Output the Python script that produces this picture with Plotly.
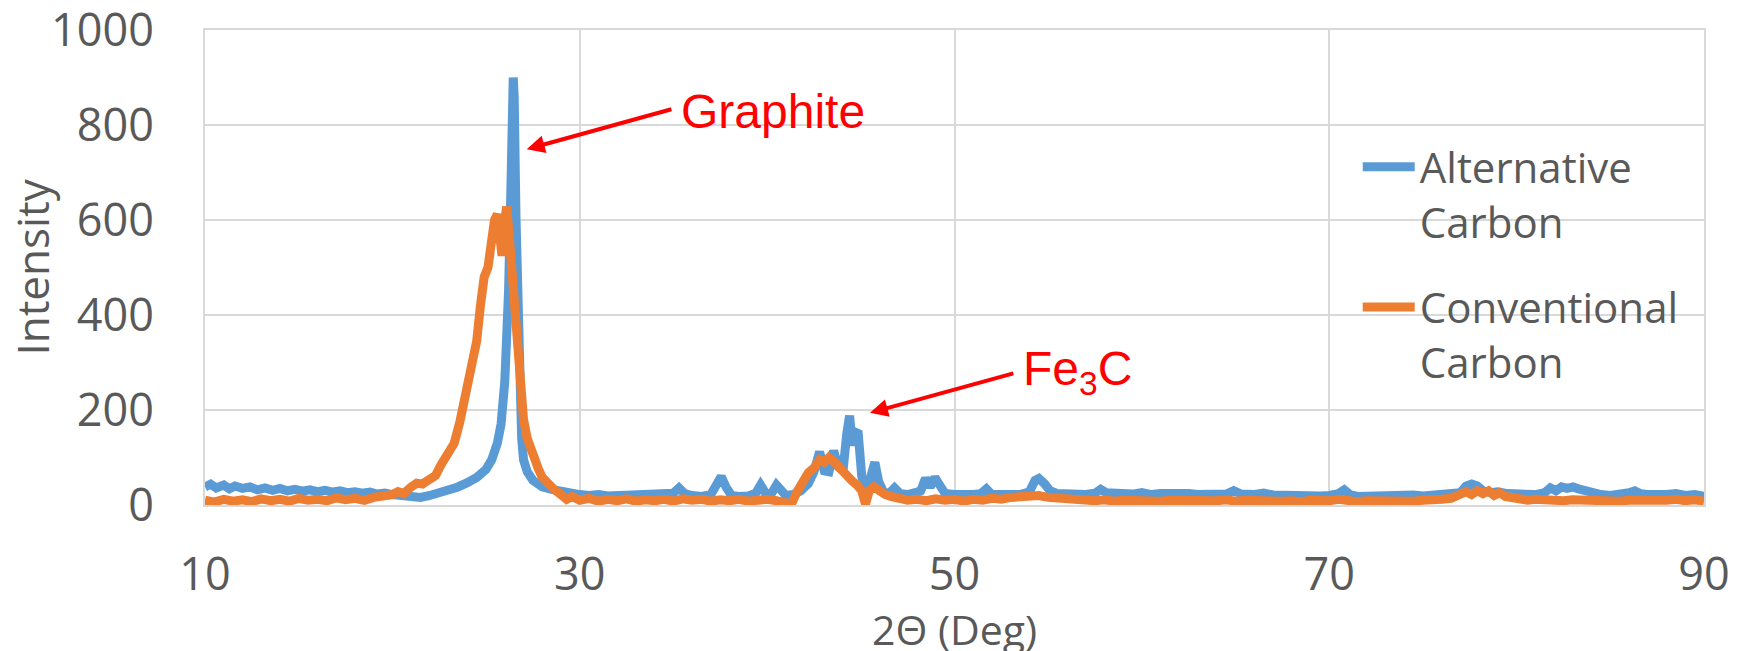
import plotly.graph_objects as go

# ---------------- data ----------------
alt_x = [10.0, 10.3, 10.6, 11.0, 11.3, 11.6, 12.0, 12.4, 12.8, 13.2, 13.6, 14.0, 14.4, 14.8, 15.2, 15.6,
         16.0, 16.4, 16.8, 17.2, 17.6, 18.0, 18.4, 18.8, 19.2, 19.6, 20.0, 20.5, 21.0, 21.5, 22.0, 22.5,
         23.0, 23.5, 24.0, 24.5, 25.0, 25.3, 25.6, 25.8, 26.0, 26.1, 26.2, 26.3, 26.4, 26.45, 26.5, 26.6,
         26.7, 26.8, 26.9, 27.0, 27.2, 27.5, 27.8, 28.0, 28.5, 29.0, 29.5, 30.0, 30.5, 31.0, 31.5, 32.0,
         32.5, 33.0, 33.5, 34.0, 34.5, 35.0, 35.3, 35.6, 36.0, 36.5, 37.0, 37.3, 37.55, 37.8, 38.1, 38.5,
         39.0, 39.4, 39.65, 39.9, 40.2, 40.5, 40.75, 41.0, 41.4, 41.8, 42.2, 42.5, 42.8, 43.05, 43.3, 43.55,
         43.8, 44.05, 44.25, 44.4, 44.55, 44.65, 44.85, 45.05, 45.3, 45.55, 45.75, 45.95, 46.2, 46.5, 46.8,
         47.1, 47.5, 47.9, 48.2, 48.45, 48.7, 48.95, 49.2, 49.5, 50.0, 50.5, 51.0, 51.4, 51.7, 52.0, 52.5,
         53.0, 53.5, 54.0, 54.3, 54.5, 54.8, 55.1, 55.5, 56.0, 56.5, 57.0, 57.5, 57.8, 58.1, 58.5, 59.0,
         59.5, 60.0, 60.5, 61.0, 61.5, 62.0, 62.5, 63.0, 63.5, 64.0, 64.5, 64.9, 65.3, 66.0, 66.5, 67.0,
         67.5, 68.0, 68.5, 69.0, 69.5, 70.0, 70.5, 70.8, 71.1, 71.5, 72.0, 72.5, 73.0, 73.5, 74.0, 74.5,
         75.0, 75.5, 76.0, 76.5, 77.0, 77.3, 77.6, 77.9, 78.2, 78.6, 79.0, 79.5, 80.0, 80.5, 81.0, 81.5,
         81.8, 82.1, 82.4, 82.7, 83.0, 83.3, 83.6, 84.0, 84.5, 85.0, 85.5, 86.0, 86.3, 86.6, 87.0, 87.5,
         88.0, 88.5, 89.0, 89.5, 90.0]
alt_y = [38, 44, 36, 42, 34, 40, 35, 38, 32, 36, 31, 35, 30, 33, 29, 32,
         28, 31, 27, 30, 26, 28, 25, 27, 23, 25, 22, 20, 17, 16, 20, 26,
         30, 38, 47, 58, 75, 95, 130, 170, 260, 340, 450, 620, 820, 900, 860, 600,
         380, 230, 140, 95, 70, 52, 42, 38, 33, 28, 25, 22, 20, 22, 19, 20,
         18, 21, 19, 20, 22, 25, 36, 24, 20, 18, 22, 40, 60, 38, 20, 18,
         19, 25, 42, 26, 22, 42, 28, 20, 22, 30, 45, 70, 112, 72, 70, 114,
         80, 72, 150, 188, 125, 150, 156, 60, 28, 55, 90, 50, 28, 24, 36,
         24, 22, 26, 30, 56, 38, 58, 40, 24, 22, 20, 22, 24, 34, 22, 20,
         22, 22, 28, 52, 56, 45, 30, 24, 22, 23, 22, 25, 33, 26, 24, 25,
         23, 26, 22, 24, 25, 23, 24, 22, 21, 22, 23, 30, 23, 22, 25, 21,
         20, 22, 20, 21, 19, 20, 24, 32, 22, 18, 19, 20, 18, 20, 19, 21,
         19, 20, 22, 21, 26, 40, 44, 40, 30, 26, 28, 24, 22, 20, 22, 26,
         36, 30, 38, 35, 38, 34, 30, 26, 22, 20, 22, 26, 30, 24, 22, 20,
         22, 24, 20, 22, 18]

conv_x = [10.0, 10.5, 11.0, 11.5, 12.0, 12.5, 13.0, 13.5, 14.0, 14.5, 15.0, 15.5, 16.0, 16.5, 17.0, 17.5,
          18.0, 18.5, 19.0, 19.5, 20.0, 20.3, 20.6, 21.0, 21.3, 21.6, 22.0, 22.3, 22.6, 23.0, 23.3, 23.6,
          23.9, 24.1, 24.3, 24.5, 24.7, 24.9, 25.1, 25.3, 25.45, 25.6, 25.75, 25.85, 26.0, 26.1, 26.25, 26.4,
          26.55, 26.7, 26.85, 27.0, 27.2, 27.5, 27.8, 28.0, 28.3, 28.6, 29.0, 29.3, 29.6, 30.0, 30.5, 31.0,
          31.5, 32.0, 32.5, 33.0, 33.5, 34.0, 34.5, 35.0, 35.5, 36.0, 36.5, 37.0, 37.5, 38.0, 38.5, 39.0,
          39.5, 40.0, 40.5, 41.0, 41.3, 41.6, 41.9, 42.2, 42.5, 42.8, 43.05, 43.3, 43.55, 43.8, 44.05, 44.3,
          44.55, 44.8, 45.05, 45.25, 45.45, 45.7, 46.0, 46.3, 46.6, 47.0, 47.5, 48.0, 48.5, 49.0, 49.5, 50.0,
          50.5, 51.0, 51.5, 52.0, 52.5, 53.0, 53.5, 54.0, 54.5, 55.0, 55.5, 56.0, 56.5, 57.0, 57.5, 58.0,
          58.5, 59.0, 59.5, 60.0, 61.0, 61.5, 62.0, 62.5, 63.0, 63.5, 64.0, 64.5, 65.0, 65.5, 66.0, 66.5,
          67.0, 67.5, 68.0, 68.5, 69.0, 69.5, 70.0, 70.5, 71.0, 71.5, 72.0, 72.5, 73.0, 73.5, 74.0, 74.5,
          75.0, 75.5, 76.0, 76.5, 77.0, 77.3, 77.6, 77.9, 78.2, 78.5, 78.8, 79.1, 79.4, 79.8, 80.2, 80.6,
          81.0, 81.5, 82.0, 82.5, 83.0, 83.5, 84.0, 84.5, 85.0, 85.5, 86.0, 86.5, 87.0, 87.5, 88.0, 88.5,
          89.0, 89.5, 90.0]
conv_y = [10, 6, 12, 8, 11, 7, 13, 9, 12, 8, 14, 10, 12, 9, 15, 11,
          14, 10, 16, 18, 22, 28, 24, 38, 46, 44, 55, 62, 85, 110, 130, 175,
          235, 260, 300, 345, 420, 480, 500, 560, 600, 612, 540, 525, 600, 628, 560, 470,
          390, 300, 230, 180, 140, 100, 75, 58, 45, 34, 22, 12, 18, 10, 14, 8,
          12, 9, 13, 8, 11, 9, 12, 8, 13, 10, 12, 8, 11, 9, 12, 8,
          10, 12, 9, 6, 2, 28, 50, 68, 78, 95, 90, 100, 92, 80, 70, 58,
          50, 42, 30, 2, 30, 38, 28, 22, 18, 14, 10, 12, 9, 13, 10, 12,
          8, 12, 10, 14, 12, 16, 18, 22, 20, 16, 14, 12, 10, 12, 9, 11,
          8, 10, 9, 11, 8, 10, 9, 11, 8, 10, 9, 11, 8, 10, 9, 7,
          10, 8, 9, 7, 10, 8, 9, 12, 8, 7, 9, 8, 10, 7, 9, 8,
          10, 9, 12, 14, 20, 28, 22, 30, 24, 30, 20, 26, 18, 14, 12, 10,
          12, 10, 12, 9, 11, 10, 12, 9, 11, 8, 10, 9, 11, 8, 10, 12,
          9, 11, 8]

series_names = ["Alternative<br>Carbon", "Conventional<br>Carbon"]
series_colors = ["#5b9bd5", "#ed7d31"]

x_ticks = [10, 30, 50, 70, 90]
y_ticks = [0, 200, 400, 600, 800, 1000]

x_title = "2Θ (Deg)"
y_title = "Intensity"

# ---------------- figure ----------------
FONT = "Open Sans"
GREY = "#595959"
GRID = "#d9d9d9"

fig = go.Figure()
for xs, ys, name, col in [(alt_x, alt_y, series_names[0], series_colors[0]),
                          (conv_x, conv_y, series_names[1], series_colors[1])]:
    fig.add_trace(go.Scatter(x=xs, y=ys, mode="lines", name=name, legendgroup=name,
                             line=dict(color=col, width=9),
                             hoverinfo="skip"))

# the page body has an 8px margin, so the figure is 8px smaller and margins shifted
fig.update_layout(
    width=1736, height=643,
    margin=dict(l=197, r=40, t=22, b=146),
    paper_bgcolor="white", plot_bgcolor="white",
    font=dict(family=FONT, color=GREY),
    legend=dict(x=0.769, y=0.783, xanchor="left", yanchor="top",
                font=dict(family=FONT, size=42, color=GREY),
                bgcolor="rgba(0,0,0,0)", itemwidth=52, valign="top",
                tracegroupgap=28),
    showlegend=True,
)

fig.update_xaxes(range=[10, 90], tickvals=x_ticks, ticktext=[str(v) for v in x_ticks],
                 automargin=False,
                 showgrid=True, gridcolor=GRID, gridwidth=2,
                 showline=True, linecolor=GRID, linewidth=2, mirror=True,
                 zeroline=False, ticks="", ticklabelstandoff=29,
                 ticklabeloverflow="allow",
                 tickfont=dict(family=FONT, size=45, color=GREY))
fig.update_yaxes(range=[0, 1000], tickvals=y_ticks, ticktext=[str(v) for v in y_ticks],
                 automargin=False,
                 showgrid=True, gridcolor=GRID, gridwidth=2,
                 showline=True, linecolor=GRID, linewidth=2, mirror=True,
                 zeroline=False, ticks="", ticklabelstandoff=40,
                 ticklabeloverflow="allow",
                 tickfont=dict(family=FONT, size=45, color=GREY))

# axis titles (as annotations so they can sit where the reference puts them)
fig.add_annotation(x=0.5, y=-0.262, xref="paper", yref="paper", text=x_title, showarrow=False,
                   xanchor="center", yanchor="middle",
                   font=dict(family=FONT, size=41, color=GREY))
fig.add_annotation(x=-0.116, y=0.5, xref="paper", yref="paper", text=y_title, showarrow=False,
                   xanchor="center", yanchor="middle", textangle=-90,
                   font=dict(family=FONT, size=44, color=GREY))

RED = "#ff0000"
# arrows
fig.add_annotation(x=27.17, y=749, ax=34.97, ay=834, xref="x", yref="y", axref="x", ayref="y",
                   text="", showarrow=True, arrowhead=2, arrowsize=0.9, arrowwidth=4, arrowcolor=RED)
fig.add_annotation(x=45.49, y=194, ax=53.22, ay=278, xref="x", yref="y", axref="x", ayref="y",
                   text="", showarrow=True, arrowhead=2, arrowsize=0.9, arrowwidth=4, arrowcolor=RED)
# labels
fig.add_annotation(x=35.29, y=829, xref="x", yref="y", text="Graphite", showarrow=False,
                   xanchor="left", yanchor="middle",
                   font=dict(family="Liberation Sans", size=48, color=RED))
fig.add_annotation(x=53.53, y=281, xref="x", yref="y", text="Fe<sub>3</sub>C", showarrow=False,
                   xanchor="left", yanchor="middle",
                   font=dict(family="Liberation Sans", size=48, color=RED))

fig.write_html("out.html")
